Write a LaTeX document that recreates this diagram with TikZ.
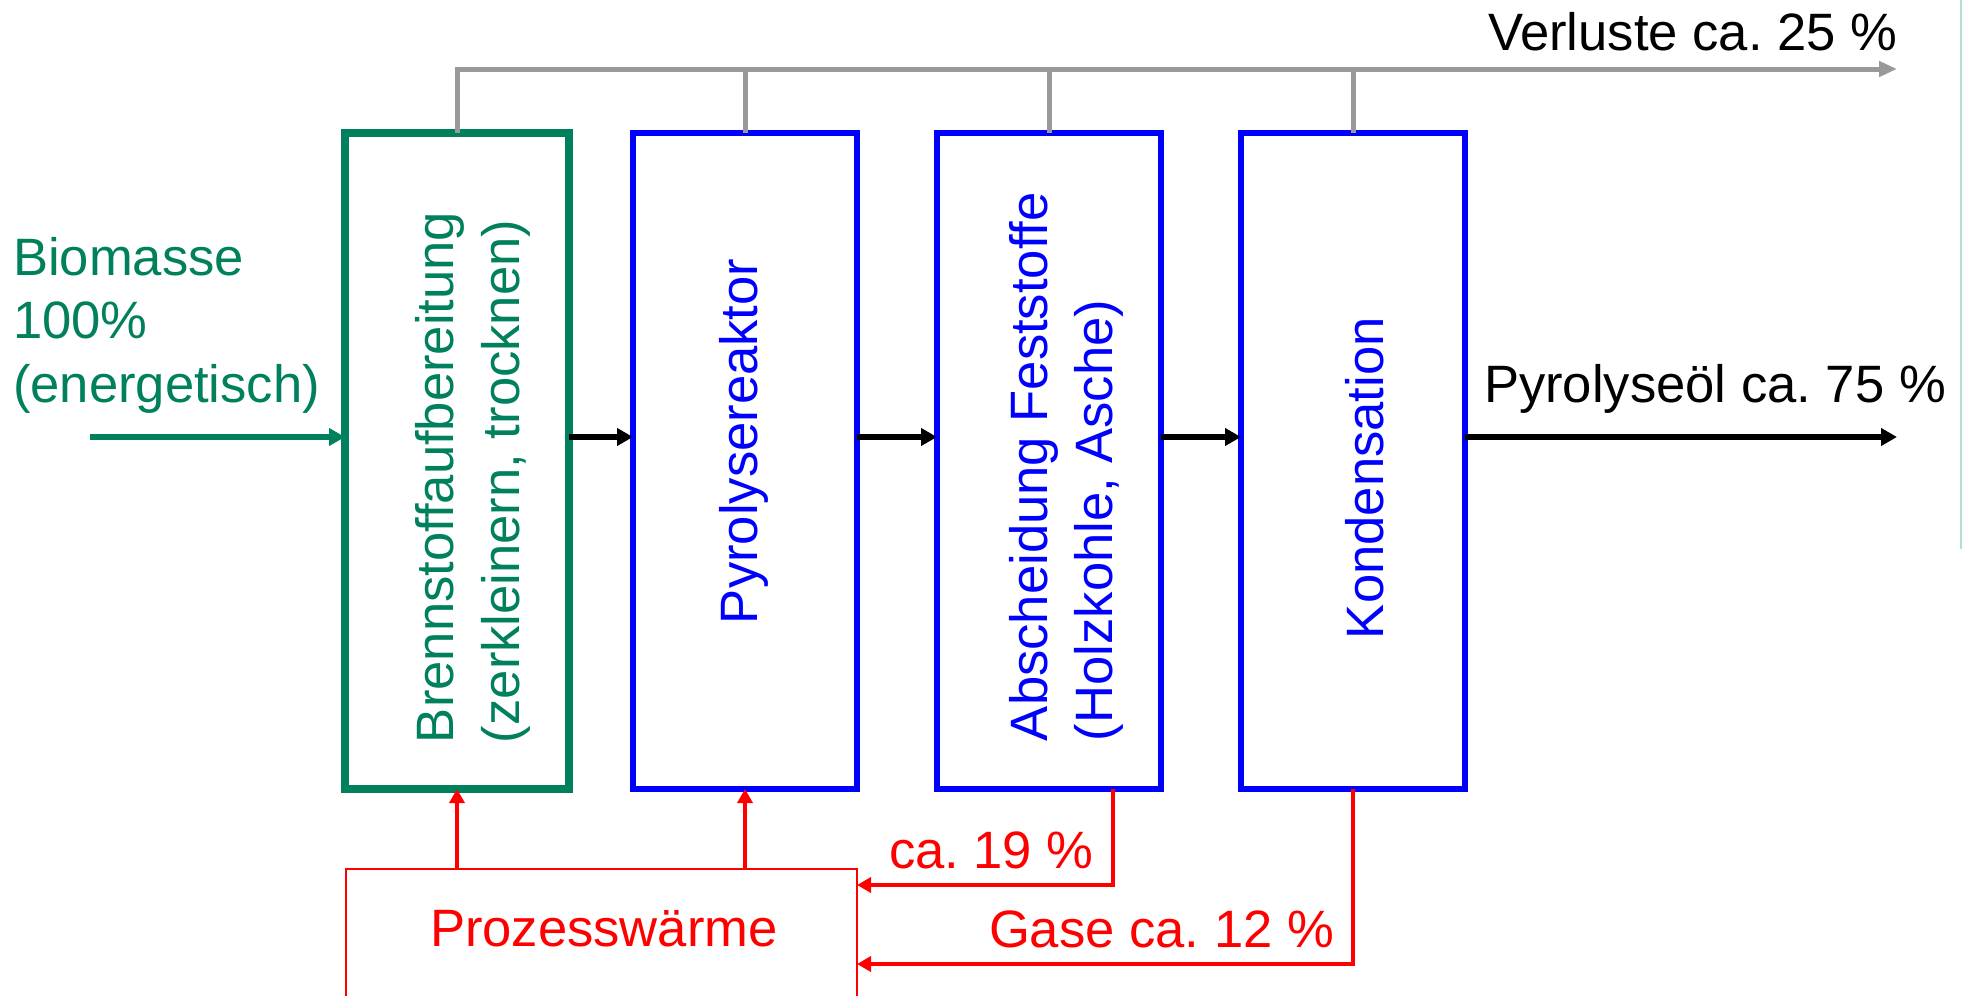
\documentclass[tikz,border=0pt]{standalone}
\usepackage{fontspec}
\setmainfont{Liberation Sans}
\usetikzlibrary{arrows.meta}
\frenchspacing
\definecolor{pgreen}{RGB}{0,128,92}
\definecolor{pblue}{RGB}{0,0,255}
\definecolor{pred}{RGB}{255,0,0}
\definecolor{pgray}{RGB}{153,153,153}
\definecolor{pfaint}{RGB}{181,221,211}
\tikzset{
  txt/.style={inner sep=0pt, outer sep=0pt, font=\fontsize{26.3pt}{31.75pt}\selectfont},
  vtxt/.style={txt, rotate=90, anchor=base west},
  htxt/.style={txt, anchor=base west},
  greenbox/.style={draw=pgreen, line width=3.6pt, minimum width=112pt, minimum height=328pt, inner sep=0pt, outer sep=0pt},
  bluebox/.style={draw=pblue, line width=2.6pt, minimum width=112pt, minimum height=328pt, inner sep=0pt, outer sep=0pt},
  heatbox/.style={draw=pred, line width=1.4pt, minimum width=255.5pt, minimum height=75.5pt, inner sep=0pt, outer sep=0pt},
  mainarrow/.style={draw=black, line width=3.2pt, -{Triangle[length=8pt,width=8.5pt]}},
  inarrow/.style={draw=pgreen, line width=3pt, -{Triangle[length=8pt,width=8.5pt]}},
  lossline/.style={draw=pgray, line width=2.5pt},
  lossarrow/.style={lossline, -{Triangle[length=9pt,width=7.5pt]}},
  heatarrow/.style={draw=pred, line width=1.75pt, -{Triangle[length=7pt,width=7.5pt]}},
  faintline/.style={draw=pfaint, line width=1.35pt}
}
\begin{document}
\begin{tikzpicture}[x=0.5pt,y=-0.5pt]
\useasboundingbox (0,0) rectangle (1972,996);
\clip (0,0) rectangle (1972,996);
% boxes
\node[greenbox] (b1) at (457,461) {};
\node[bluebox] (b2) at (745,461) {};
\node[bluebox] (b3) at (1049,461) {};
\node[bluebox] (b4) at (1353,461) {};
\node[heatbox] (pw) at (601.5,944.5) {};
% box texts
\node[vtxt, text=pgreen] (t1a) at (453,743) {Brennstoffaufbereitung};
\node[vtxt, text=pgreen] (t1b) at (519,743) {(zerkleinern, trocknen)};
\node[vtxt, text=pblue] (t2) at (757,624) {Pyrolysereaktor};
\node[vtxt, text=pblue] (t3a) at (1047,741) {Abscheidung Feststoffe};
\node[vtxt, text=pblue] (t3b) at (1112,741) {(Holzkohle, Asche)};
\node[vtxt, text=pblue] (t4) at (1383,639) {Kondensation};
\node[htxt, text=pred] (tpw) at (430,946) {Prozesswärme};
% outer labels
\node[htxt, text=pgreen] (bio1) at (13,275) {Biomasse};
\node[htxt, text=pgreen] (bio2) at (13,338) {100\%};
\node[htxt, text=pgreen] (bio3) at (13,402) {(energetisch)};
\node[htxt] (verl) at (1488,50) {Verluste ca. 25 \%};
\node[htxt] (oel) at (1484,402) {Pyrolyseöl ca. 75 \%};
\node[htxt, text=pred] (l19) at (889,868) {ca. 19 \%};
\node[htxt, text=pred] (l12) at (989,947) {Gase ca. 12 \%};
% coordinates
\coordinate (m) at (0,437);
\coordinate (bin) at (90,437);
\coordinate (pout) at (1897,437);
\coordinate (vend) at (1897,69);
\coordinate (c19) at (1113,885);
\coordinate (c12) at (1353,964);
\coordinate (ft) at (1961,0);
\coordinate (fb) at (1961,549);
% main flow
\draw[inarrow] (bin) -- (b1.west |- bin);
\draw[mainarrow] (b1.east |- m) -- (b2.west |- m);
\draw[mainarrow] (b2.east |- m) -- (b3.west |- m);
\draw[mainarrow] (b3.east |- m) -- (b4.west |- m);
\draw[mainarrow] (b4.east |- pout) -- (pout);
% losses
\draw[lossarrow] (b1.north) |- (vend);
\draw[lossline] (b2.north) -- (b2.north |- vend);
\draw[lossline] (b3.north) -- (b3.north |- vend);
\draw[lossline] (b4.north) -- (b4.north |- vend);
% process heat
\draw[heatarrow] (b1.south |- pw.north) -- (b1.south);
\draw[heatarrow] (b2.south |- pw.north) -- (b2.south);
\draw[heatarrow] (b3.south -| c19) -- (c19) -- (pw.east |- c19);
\draw[heatarrow] (b4.south) -- (b4.south |- c12) -- (pw.east |- c12);
% faint slide edge
\draw[faintline] (ft) -- (fb);
\end{tikzpicture}
\end{document}
